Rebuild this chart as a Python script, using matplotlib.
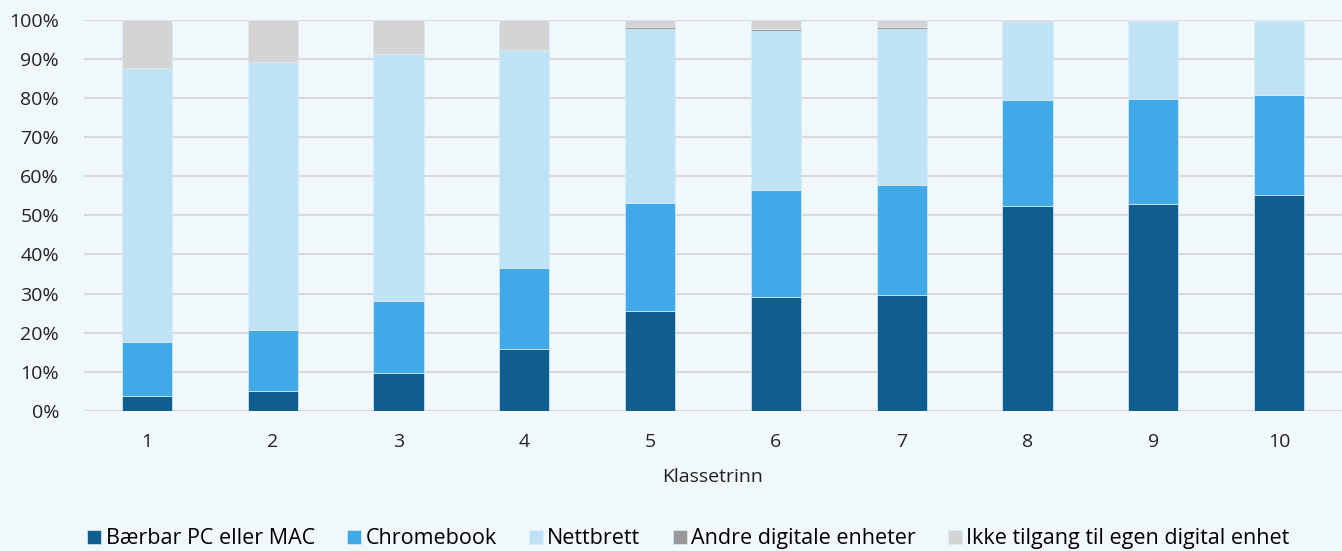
import numpy as np
import matplotlib.pyplot as plt
from matplotlib.ticker import PercentFormatter

plt.rcParams['font.family'] = ['Open Sans', 'DejaVu Sans']

# Share of pupils per device type, by grade (percent)
grades = ['1', '2', '3', '4', '5', '6', '7', '8', '9', '10']
laptop = [3.8, 5.1, 9.7, 15.9, 25.6, 29.2, 29.7, 52.4, 52.9, 55.2]
chromebook = [13.8, 15.6, 18.4, 20.7, 27.6, 27.3, 28.1, 27.1, 26.9, 25.6]
tablet = [69.7, 68.2, 62.8, 55.3, 44.4, 40.7, 39.9, 19.7, 19.6, 18.8]
other = [0.4, 0.4, 0.4, 0.3, 0.4, 0.4, 0.3, 0.3, 0.2, 0.1]
no_access = [12.3, 10.7, 8.7, 7.8, 2.0, 2.4, 2.0, 0.5, 0.4, 0.3]

series = [
    ('Bærbar PC eller MAC', laptop, '#0F5E8E'),
    ('Chromebook', chromebook, '#42A9E8'),
    ('Nettbrett', tablet, '#C0E2F6'),
    ('Andre digitale enheter', other, '#999999'),
    ('Ikke tilgang til egen digital enhet', no_access, '#D4D4D4'),
]

bg = '#F0F8FC'
fig = plt.figure(figsize=(13.42, 5.51), dpi=100, facecolor=bg)
ax = fig.add_axes([0.0626, 0.254, 0.9374, 0.7103], facecolor=bg)

x = np.arange(len(grades))
bottom = np.zeros(len(grades))
for name, vals, col in series:
    ax.bar(x, vals, 0.4, bottom=bottom, color=col, label=name, zorder=3,
           edgecolor='#D8EEFA', linewidth=0.5)
    bottom += np.array(vals)

ax.set_xlim(-0.5, len(grades) - 0.5)
ax.set_ylim(0, 100)
ax.set_yticks(range(0, 101, 10))
ax.yaxis.set_major_formatter(PercentFormatter(decimals=0))
ax.set_xticks(x)
ax.set_xticklabels(grades)
ax.grid(axis='y', color='#D9D9D9', linewidth=1.5, zorder=0)
for s in ax.spines.values():
    s.set_visible(False)
ax.tick_params(length=0, labelsize=14, colors='#222222')
ax.tick_params(axis='x', pad=16)
ax.tick_params(axis='y', pad=18)
ax.set_xlabel('Klassetrinn', fontsize=14, color='#222222', labelpad=12)

fig.legend(*ax.get_legend_handles_labels(), loc='center', bbox_to_anchor=(0.513, 0.022),
           ncol=5, frameon=False, fontsize=15.5, handlelength=0.65, handleheight=0.65,
           handletextpad=0.2, columnspacing=1.5)

plt.savefig('out.png', dpi=100, facecolor=bg)
